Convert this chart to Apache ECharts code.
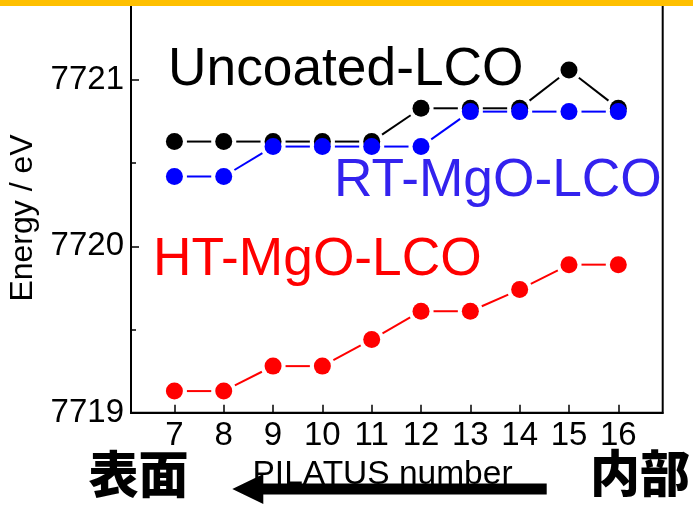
<!DOCTYPE html>
<html>
<head>
<meta charset="utf-8">
<script src="https://cdn.jsdelivr.net/npm/echarts@6/dist/echarts.min.js"></script>
<style>
  html, body { margin: 0; padding: 0; background: #fff; }
  #chart { width: 693px; height: 505px; }
</style>
</head>
<body>
<div id="chart"></div>
<script>
// PILATUS detector number (x) and Co K-edge energy (eV) for each sample
const pilatus = [7, 8, 9, 10, 11, 12, 13, 14, 15, 16];
const uncoated = [7720.63, 7720.63, 7720.63, 7720.63, 7720.63, 7720.83, 7720.83, 7720.83, 7721.06, 7720.83];
const rtMgO = [7720.42, 7720.42, 7720.60, 7720.60, 7720.60, 7720.60, 7720.81, 7720.81, 7720.81, 7720.81];
const htMgO = [7719.13, 7719.13, 7719.28, 7719.28, 7719.44, 7719.61, 7719.61, 7719.74, 7719.89, 7719.89];

const yMajorTicks = [7719, 7720, 7721];
const yMinorTicks = [7719.5, 7720.5];

const FONT = '"Liberation Sans", Arial, sans-serif';
const CJK = '"Noto Sans CJK JP", "Noto Sans CJK SC", sans-serif';
const GAP = 12.5;      // space kept between a connecting segment and the symbols
const SYMBOL = 17;

// consecutive point pairs -> [x0, y0, x1, y1]
function segments(ys) {
  const out = [];
  for (let i = 0; i < pilatus.length - 1; i++) {
    out.push([pilatus[i], ys[i], pilatus[i + 1], ys[i + 1]]);
  }
  return out;
}

// segment drawn between two points, trimmed at both ends (Origin-style gap)
function gappedLine(color) {
  return function (params, api) {
    const a = api.coord([api.value(0), api.value(1)]);
    const b = api.coord([api.value(2), api.value(3)]);
    const dx = b[0] - a[0], dy = b[1] - a[1];
    const len = Math.hypot(dx, dy);
    if (len <= 2 * GAP) return null;
    const ux = dx / len, uy = dy / len;
    return {
      type: 'line',
      shape: {
        x1: a[0] + ux * GAP, y1: a[1] + uy * GAP,
        x2: b[0] - ux * GAP, y2: b[1] - uy * GAP
      },
      style: { stroke: color, lineWidth: 2 }
    };
  };
}

function seriesPair(name, ys, color) {
  return [
    {
      name: name + ' line',
      type: 'custom',
      renderItem: gappedLine(color),
      encode: { x: [0, 2], y: [1, 3] },
      data: segments(ys),
      silent: true
    },
    {
      name: name,
      type: 'scatter',
      symbol: 'circle',
      symbolSize: SYMBOL,
      itemStyle: { color: color, opacity: 1 },
      data: pilatus.map((x, i) => [x, ys[i]]),
      silent: true
    }
  ];
}

const chart = echarts.init(document.getElementById('chart'), null, { renderer: 'canvas' });

chart.setOption({
  backgroundColor: '#fff',
  animation: false,
  grid: {
    left: 131, right: 30.3, top: 0, bottom: 92.3,
    show: true, borderColor: '#000', borderWidth: 2, backgroundColor: 'transparent'
  },
  xAxis: {
    type: 'value',
    min: 6.12, max: 16.9,
    axisLine: { show: true, onZero: false, lineStyle: { color: '#000', width: 2 } },
    axisTick: { show: true, inside: true, length: 8, customValues: pilatus, lineStyle: { color: '#000', width: 1.5 } },
    axisLabel: { customValues: pilatus, color: '#000', fontSize: 33, fontFamily: FONT, margin: 7, formatter: v => String(v) },
    splitLine: { show: false }
  },
  yAxis: [
    {
      type: 'value',
      position: 'left',
      min: 7719, max: 7721.481,
      axisLine: { show: true, onZero: false, lineStyle: { color: '#000', width: 2 } },
      axisTick: { show: true, inside: true, length: 8, customValues: yMajorTicks, lineStyle: { color: '#000', width: 1.5 } },
      axisLabel: { customValues: yMajorTicks, color: '#000', fontSize: 33, fontFamily: FONT, margin: 7, formatter: v => String(v) },
      splitLine: { show: false }
    },
    {
      type: 'value',
      position: 'left',
      offset: 0,
      min: 7719, max: 7721.481,
      axisLine: { show: false },
      axisTick: { show: true, inside: true, length: 5, customValues: yMinorTicks, lineStyle: { color: '#000', width: 1.5 } },
      axisLabel: { show: false },
      splitLine: { show: false }
    }
  ],
  series: [].concat(
    seriesPair('Uncoated-LCO', uncoated, '#000000'),
    seriesPair('RT-MgO-LCO', rtMgO, '#0000ff'),
    seriesPair('HT-MgO-LCO', htMgO, '#ff0000')
  ),
  graphic: [
    { type: 'rect', shape: { x: 0, y: 0, width: 693, height: 6 }, style: { fill: '#ffc000' }, z: 100 },
    {
      type: 'text', x: 23, y: 218, rotation: Math.PI / 2,
      style: { text: 'Energy / eV', font: '32px ' + FONT, fill: '#000', align: 'center', verticalAlign: 'middle' }
    },
    {
      type: 'text', x: 168, y: 70.5,
      style: { text: 'Uncoated-LCO', font: '53.3px ' + FONT, fill: '#000', align: 'left', verticalAlign: 'middle' }
    },
    {
      type: 'text', x: 334, y: 181.5,
      style: { text: 'RT-MgO-LCO', font: '53.3px ' + FONT, fill: '#3322ee', align: 'left', verticalAlign: 'middle' }
    },
    {
      type: 'text', x: 153, y: 260.5,
      style: { text: 'HT-MgO-LCO', font: '53.3px ' + FONT, fill: '#ff0000', align: 'left', verticalAlign: 'middle' }
    },
    {
      type: 'text', x: 252.5, y: 475,
      style: { text: 'PILATUS number', font: '33.5px ' + FONT, fill: '#000', align: 'left', verticalAlign: 'middle' }
    },
    {
      type: 'polygon', z: 50,
      shape: { points: [[232.3, 489], [263.3, 474], [263.3, 483.5], [546.7, 483.5], [546.7, 494.5], [263.3, 494.5], [263.3, 504]] },
      style: { fill: '#000' }
    },
    {
      type: 'text', x: 138.6, y: 474,
      style: { text: '表面', font: '900 50px ' + CJK, fill: '#000', align: 'center', verticalAlign: 'middle' }
    },
    {
      type: 'text', x: 640, y: 473,
      style: { text: '内部', font: '900 50px ' + CJK, fill: '#000', align: 'center', verticalAlign: 'middle' }
    }
  ]
});
</script>
</body>
</html>
